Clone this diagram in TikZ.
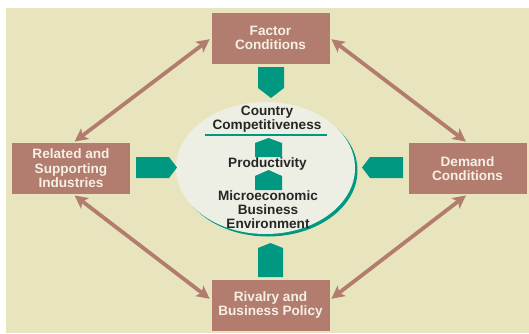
\documentclass[tikz,border=0pt]{standalone}
\usepackage{fontspec}
\setmainfont{Liberation Sans}
\usetikzlibrary{arrows.meta,shapes.geometric}
\definecolor{bgyellow}{RGB}{232,229,190}
\definecolor{boxbrown}{RGB}{178,124,110}
\definecolor{boxtext}{RGB}{246,240,228}
\definecolor{tealgreen}{RGB}{0,152,128}
\definecolor{ovalfill}{RGB}{238,239,228}

\begin{document}
\begin{tikzpicture}[x=1pt, y=-1pt,
  box/.style={fill=boxbrown, text=boxtext, align=center,
    font=\bfseries\fontsize{13.6}{14.5}\selectfont,
    minimum width=118pt, minimum height=51pt, inner sep=0pt},
  centertext/.style={text=black!85, align=center, anchor=base,
    font=\bfseries\fontsize{13.6}{14}\selectfont},
  link/.style={{Stealth[length=13pt,width=13pt,inset=3pt]}-{Stealth[length=13pt,width=13pt,inset=3pt]},
    draw=boxbrown, line width=3.8pt, shorten <=2pt, shorten >=2pt}]
  \useasboundingbox (0,0) rectangle (529,333);

  % 背景
  \fill[white] (0,0) rectangle (529,333);
  \fill[bgyellow] (6,8) rectangle (529,333);

  % 楕円(影つき)
  \node[ellipse, fill=tealgreen, minimum width=179pt, minimum height=132pt] (ovalshadow) at (268,170.5) {};
  \node[ellipse, fill=ovalfill, minimum width=179pt, minimum height=132pt] (oval) at (265.5,168) {};

  % 四つの箱
  \node[box] (factor)  at (270.5,38)  {Factor\\Conditions};
  \node[box] (related) at (71,168.5)  {Related and\\Supporting\\Industries};
  \node[box] (demand)  at (467.5,168.5) {Demand\\Conditions};
  \node[box] (rivalry) at (270.5,305) {Rivalry and\\Business Policy};

  % 楕円の中の文字(base は最後の行)
  \node[centertext] (country) at (267,129) {Country\\Competitiveness};
  \draw[tealgreen, line width=1.2pt] (205,135) -- (327,135);
  \node[centertext] (prod)  at (267.5,167) {Productivity};
  \node[centertext] (micro) at (268,228) {Microeconomic\\Business\\Environment};

  % 緑の矢印(外から楕円へ)
  \fill[tealgreen] (258,67) -- (284,67) -- (284,88) -- (271,98) -- (258,88) -- cycle;
  \fill[tealgreen] (136,157) -- (169,157) -- (177,167.5) -- (169,178) -- (136,178) -- cycle;
  \fill[tealgreen] (403,157) -- (370,157) -- (362,167.5) -- (370,178) -- (403,178) -- cycle;
  \fill[tealgreen] (258,277) -- (258,248) -- (270.5,243) -- (283,248) -- (283,277) -- cycle;

  % 楕円の中の小さい矢印
  \fill[tealgreen] (255,157) -- (255,143) -- (268.5,138) -- (282,143) -- (282,157) -- cycle;
  \fill[tealgreen] (255,190) -- (255,176) -- (268.5,170) -- (282,176) -- (282,190) -- cycle;

  % 両矢印
  \draw[link] ([xshift=2pt]related.north) -- (factor.west);
  \draw[link] (factor.east) -- (demand.north);
  \draw[link] ([xshift=2pt]related.south) -- ([yshift=5pt]rivalry.west);
  \draw[link] (demand.south) -- ([yshift=5pt]rivalry.east);
\end{tikzpicture}
\end{document}
